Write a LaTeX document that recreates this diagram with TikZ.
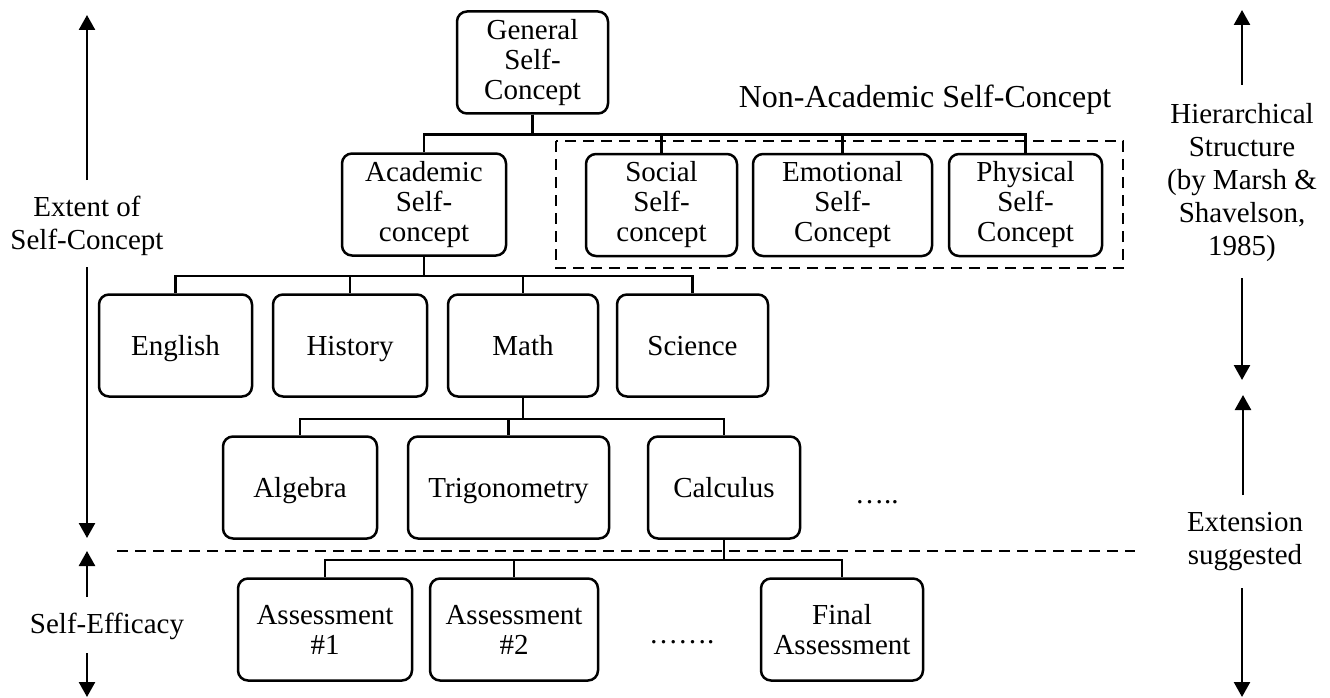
\documentclass[tikz,border=0pt]{standalone}
\usepackage{fontspec}
\setmainfont{Liberation Serif}
\usetikzlibrary{arrows.meta}
\begin{document}
\begin{tikzpicture}[x=1pt,y=-1pt,
  box/.style={draw, line width=2.5pt, rounded corners=10pt, inner sep=0pt, align=center,
    font=\fontsize{29}{30}\selectfont, minimum height=102pt},
  onebox/.style={box, text height=19pt, text depth=0pt},
  conn/.style={line width=2.5pt},
  dashline/.style={line width=2.4pt, dash pattern=on 11pt off 7pt},
  arr/.style={line width=2.5pt, -{Triangle[width=16pt,length=15pt]}},
  side/.style={align=center, font=\fontsize{29}{33}\selectfont, inner sep=0pt},
  dots/.style={font=\fontsize{29}{33}\selectfont, inner sep=0pt, anchor=base west}
]
\useasboundingbox (0,0) rectangle (1330,698);

% level 1
\node[box, minimum width=151pt] (gen) at (532.5,62.5) {General\\Self-\\Concept};
% level 2
\node[box, minimum width=164pt] (acad) at (424,204.5) {Academic\\Self-\\concept};
\node[box, minimum width=151pt] (soc) at (661.5,205) {Social\\Self-\\concept};
\node[box, minimum width=179pt] (emo) at (842.5,205) {Emotional\\Self-\\Concept};
\node[box, minimum width=153pt] (phy) at (1025.5,205) {Physical\\Self-\\Concept};
% level 3
\node[onebox, minimum width=153pt] (eng) at (175.5,345.5) {English};
\node[onebox, minimum width=154pt] (his) at (350,345.5) {History};
\node[onebox, minimum width=150pt] (math) at (523,345.5) {Math};
\node[onebox, minimum width=151pt] (sci) at (692.5,345.5) {Science};
% level 4
\node[onebox, minimum width=154pt] (alg) at (300,487.5) {Algebra};
\node[onebox, minimum width=201pt] (trig) at (508.5,487.5) {Trigonometry};
\node[onebox, minimum width=152pt] (calc) at (724,487.5) {Calculus};
% level 5
\node[box, minimum width=174pt] (a1) at (325,629.5) {Assessment\\\#1};
\node[box, minimum width=168pt] (a2) at (514,629.5) {Assessment\\\#2};
\node[box, minimum width=162pt] (fin) at (842,629.5) {Final\\Assessment};

% connectors
\foreach \c in {acad,soc,emo,phy} \draw[conn] (gen.south) -- ++(0,20) -| (\c.north);
\foreach \c in {eng,his,math,sci} \draw[conn] (acad.south) -- ++(0,19) -| (\c.north);
\foreach \c in {alg,trig,calc} \draw[conn] (math.south) -- ++(0,21) -| (\c.north);
\foreach \c in {a1,a2,fin} \draw[conn] (calc.south) -- ++(0,20) -| (\c.north);

% non-academic group
\draw[dashline] (556,141) rectangle (1123,268);
\node[font=\fontsize{32}{36}\selectfont, inner sep=0pt] (nonac) at (925,100) {Non-Academic Self-Concept};

% divider
\draw[dashline] (117,551) -- (1135,551);

% ellipses
\node[dots] (dots1) at (855,503) {…..};
\node[dots] (dots2) at (649,643) {…….};

% left side
\node[side] (extent) at (87,226) {Extent of\\Self-Concept};
\coordinate (extA) at (87,180);
\coordinate (extAt) at (87,15);
\coordinate (extB) at (87,267);
\coordinate (extBt) at (87,538);
\draw[arr] (extA) -- (extAt);
\draw[arr] (extB) -- (extBt);

\node[side] (eff) at (107,626) {Self-Efficacy};
\coordinate (effA) at (87,597);
\coordinate (effAt) at (87,551);
\coordinate (effB) at (87,653);
\coordinate (effBt) at (87,697);
\draw[arr] (effA) -- (effAt);
\draw[arr] (effB) -- (effBt);

% right side
\node[side] (hier) at (1242,183) {Hierarchical\\Structure\\(by Marsh \&\\Shavelson,\\1985)};
\coordinate (hA) at (1242,85);
\coordinate (hAt) at (1242,10);
\coordinate (hB) at (1242,278);
\coordinate (hBt) at (1242,380);
\draw[arr] (hA) -- (hAt);
\draw[arr] (hB) -- (hBt);

\node[side] (ext) at (1245,542) {Extension\\suggested};
\coordinate (eA) at (1243,495);
\coordinate (eAt) at (1243,395);
\coordinate (eB) at (1242,588);
\coordinate (eBt) at (1242,697);
\draw[arr] (eA) -- (eAt);
\draw[arr] (eB) -- (eBt);
\end{tikzpicture}
\end{document}
